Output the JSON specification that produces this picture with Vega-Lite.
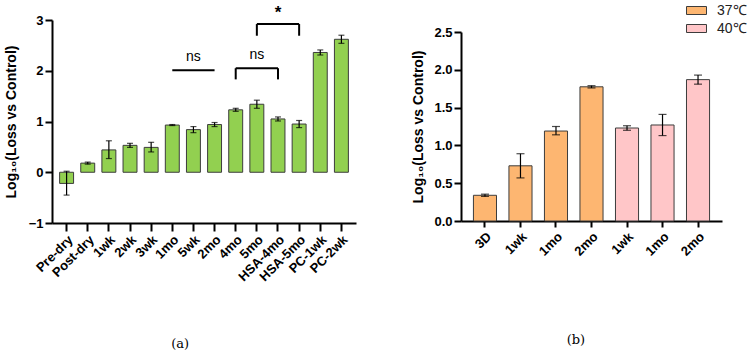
{
  "$schema": "https://vega.github.io/schema/vega-lite/v6.json",
  "background": "white",
  "padding": {"left": 4, "top": 0, "right": 0, "bottom": 0},
  "spacing": 55,
  "datasets": {
    "loss": [
      {"group": "Pre-dry", "value": -0.22, "lo": -0.45, "hi": 0.02},
      {"group": "Post-dry", "value": 0.18, "lo": 0.16, "hi": 0.2},
      {"group": "1wk", "value": 0.44, "lo": 0.27, "hi": 0.62},
      {"group": "2wk", "value": 0.53, "lo": 0.49, "hi": 0.57},
      {"group": "3wk", "value": 0.49, "lo": 0.4, "hi": 0.59},
      {"group": "1mo", "value": 0.93, "lo": 0.92, "hi": 0.94},
      {"group": "5wk", "value": 0.84, "lo": 0.78, "hi": 0.9},
      {"group": "2mo", "value": 0.94, "lo": 0.9, "hi": 0.98},
      {"group": "4mo", "value": 1.23, "lo": 1.2, "hi": 1.26},
      {"group": "5mo", "value": 1.34, "lo": 1.26, "hi": 1.42},
      {"group": "HSA-4mo", "value": 1.05, "lo": 1.01, "hi": 1.09},
      {"group": "HSA-5mo", "value": 0.95, "lo": 0.88, "hi": 1.02},
      {"group": "PC-1wk", "value": 2.36, "lo": 2.31, "hi": 2.41},
      {"group": "PC-2wk", "value": 2.62, "lo": 2.54, "hi": 2.7}
    ],
    "brackets": [
      {"from": "1mo", "to": "2mo", "y": 2.01},
      {"from": "4mo", "to": "HSA-4mo", "y": 2.05},
      {"from": "5mo", "to": "HSA-5mo", "y": 2.92}
    ],
    "legs": [
      {"at": "4mo", "y": 1.83, "y2": 2.05},
      {"at": "HSA-4mo", "y": 1.83, "y2": 2.05},
      {"at": "5mo", "y": 2.69, "y2": 2.92},
      {"at": "HSA-5mo", "y": 2.69, "y2": 2.92}
    ],
    "marks": [
      {"at": "5wk", "y": 2.28, "label": "ns"},
      {"at": "5mo", "y": 2.32, "label": "ns"}
    ],
    "stars": [
      {"at": "HSA-4mo", "y": 3.13, "label": "*"}
    ],
    "temp": [
      {"key": "3D|37", "temp": "37℃", "value": 0.34, "lo": 0.325, "hi": 0.355},
      {"key": "1wk|37", "temp": "37℃", "value": 0.73, "lo": 0.57, "hi": 0.89},
      {"key": "1mo|37", "temp": "37℃", "value": 1.19, "lo": 1.14, "hi": 1.25},
      {"key": "2mo|37", "temp": "37℃", "value": 1.775, "lo": 1.76, "hi": 1.79},
      {"key": "1wk|40", "temp": "40℃", "value": 1.23, "lo": 1.2, "hi": 1.26},
      {"key": "1mo|40", "temp": "40℃", "value": 1.27, "lo": 1.13, "hi": 1.41},
      {"key": "2mo|40", "temp": "40℃", "value": 1.87, "lo": 1.81, "hi": 1.93}
    ]
  },
  "hconcat": [
    {
      "width": 304,
      "height": 203,
      "title": {"text": "(a)", "orient": "bottom", "anchor": "middle", "frame": "bounds", "offset": 54, "font": "DejaVu Serif", "fontSize": 13, "fontWeight": "normal", "color": "black"},
      "layer": [
        {
          "data": {"name": "loss"},
          "mark": {"type": "bar", "fill": "#92D050", "stroke": "#3c3c3c", "strokeWidth": 1},
          "encoding": {
            "x": {
              "field": "group", "type": "nominal", "sort": null,
              "scale": {"paddingInner": 0.34, "paddingOuter": 0.36},
              "axis": {"title": null, "labelAngle": -45, "labelPadding": 2, "tickSize": 8}
            },
            "y": {
              "field": "value", "type": "quantitative",
              "scale": {"domain": [-1, 3], "nice": false, "zero": false},
              "axis": {"values": [-1, 0, 1, 2, 3], "format": "d", "title": "Log₁₀(Loss vs Control)", "titlePadding": 10}
            }
          }
        },
        {
          "data": {"name": "loss"},
          "mark": {"type": "errorbar", "ticks": {"size": 6, "color": "black", "thickness": 1.2}, "rule": {"color": "black", "strokeWidth": 1.2}},
          "encoding": {
            "x": {"field": "group", "type": "nominal", "sort": null},
            "y": {"field": "lo", "type": "quantitative", "axis": {"values": [-1, 0, 1, 2, 3], "format": "d", "title": "Log₁₀(Loss vs Control)", "titlePadding": 10}},
            "y2": {"field": "hi"}
          }
        },
        {
          "mark": {"type": "rule", "color": "black", "strokeWidth": 2},
          "encoding": {"y": {"datum": 0}}
        },
        {
          "data": {"name": "brackets"},
          "mark": {"type": "rule", "color": "black", "strokeWidth": 2},
          "encoding": {
            "x": {"field": "from", "type": "nominal", "sort": null},
            "x2": {"field": "to"},
            "y": {"field": "y", "type": "quantitative"}
          }
        },
        {
          "data": {"name": "legs"},
          "mark": {"type": "rule", "color": "black", "strokeWidth": 2},
          "encoding": {
            "x": {"field": "at", "type": "nominal", "sort": null},
            "y": {"field": "y", "type": "quantitative"},
            "y2": {"field": "y2"}
          }
        },
        {
          "data": {"name": "marks"},
          "mark": {"type": "text", "font": "Liberation Sans", "fontSize": 14, "color": "black", "baseline": "middle"},
          "encoding": {
            "x": {"field": "at", "type": "nominal", "sort": null},
            "y": {"field": "y", "type": "quantitative"},
            "text": {"field": "label"}
          }
        },
        {
          "data": {"name": "stars"},
          "mark": {"type": "text", "font": "Liberation Sans", "fontSize": 17, "fontWeight": "bold", "color": "black", "baseline": "middle"},
          "encoding": {
            "x": {"field": "at", "type": "nominal", "sort": null},
            "y": {"field": "y", "type": "quantitative"},
            "text": {"field": "label"}
          }
        }
      ]
    },
    {
      "width": 261,
      "height": 201,
      "title": {"text": "(b)", "orient": "bottom", "anchor": "middle", "frame": "bounds", "offset": 76, "dx": 9, "font": "DejaVu Serif", "fontSize": 13, "fontWeight": "normal", "color": "black"},
      "data": {"name": "temp"},
      "layer": [
        {
          "mark": {"type": "bar", "stroke": "#3c3c3c", "strokeWidth": 1},
          "encoding": {
            "x": {
              "field": "key", "type": "nominal", "sort": null,
              "scale": {"paddingInner": 0.35, "paddingOuter": 0.35},
              "axis": {"title": null, "labelAngle": -45, "labelPadding": 3, "tickSize": 6, "labelExpr": "split(datum.value, '|')[0]"}
            },
            "y": {
              "field": "value", "type": "quantitative",
              "scale": {"domain": [0, 2.5], "nice": false, "range": [201, 12]},
              "axis": {"values": [0, 0.5, 1, 1.5, 2, 2.5], "format": ".1f", "title": "Log₁₀(Loss vs Control)", "titlePadding": 8}
            },
            "fill": {
              "field": "temp", "type": "nominal",
              "scale": {"domain": ["37℃", "40℃"], "range": ["#FDB671", "#FFC6C8"]},
              "legend": {
                "title": null, "orient": "none", "legendX": 634, "legendY": -20,
                "symbolType": "M-1,-0.4H1V0.4H-1Z", "symbolSize": 400,
                "symbolStrokeColor": "#3c3c3c", "symbolStrokeWidth": 1,
                "labelFont": "Liberation Sans", "labelFontSize": 14, "labelFontWeight": "normal",
                "labelColor": "#222222", "labelOffset": 10, "rowPadding": 0, "padding": 0
              }
            }
          }
        },
        {
          "mark": {"type": "errorbar", "ticks": {"size": 8, "color": "black", "thickness": 1.2}, "rule": {"color": "black", "strokeWidth": 1.2}},
          "encoding": {
            "x": {"field": "key", "type": "nominal", "sort": null},
            "y": {"field": "lo", "type": "quantitative", "axis": {"values": [0, 0.5, 1, 1.5, 2, 2.5], "format": ".1f", "title": "Log₁₀(Loss vs Control)", "titlePadding": 8}},
            "y2": {"field": "hi"}
          }
        }
      ]
    }
  ],
  "config": {
    "view": {"stroke": null},
    "font": "Liberation Sans",
    "axis": {
      "grid": false,
      "domainColor": "black", "domainWidth": 2,
      "tickColor": "black", "tickWidth": 2, "tickSize": 7,
      "labelFont": "Liberation Sans", "labelFontWeight": "bold", "labelFontSize": 13, "labelColor": "black", "labelPadding": 2,
      "titleFont": "Liberation Sans", "titleFontWeight": "bold", "titleFontSize": 14, "titleColor": "black"
    }
  }
}
